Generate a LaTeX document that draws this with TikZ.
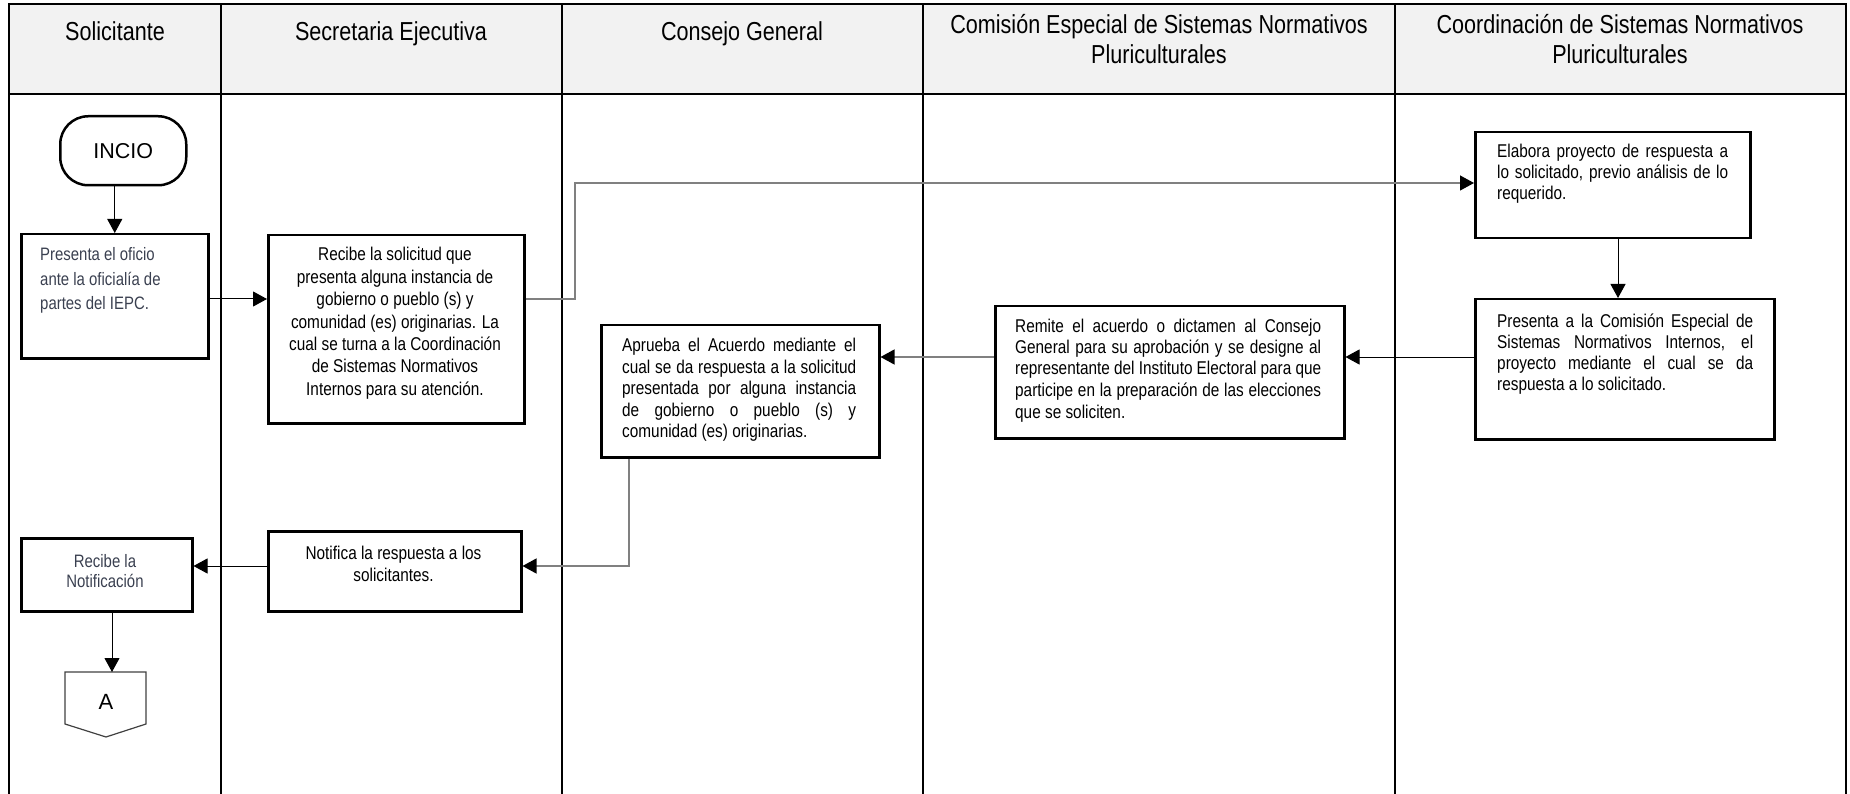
\documentclass[tikz,border=0pt]{standalone}
\usepackage{fontspec}
\setmainfont{Liberation Sans}
\newfontfamily\narf{Liberation Sans}[FakeStretch=0.83]
\usetikzlibrary{arrows.meta,calc}
\definecolor{hdrfill}{HTML}{F2F2F2}
\definecolor{linegray}{HTML}{808080}
\definecolor{slate}{HTML}{3A4050}
\definecolor{shapegray}{HTML}{404040}
\newcommand\JL[1]{\hbox to \hsize{#1}}
\begin{document}
\begin{tikzpicture}[x=1pt,y=-1pt,
  frameline/.style={line width=2.5pt,black},
  colline/.style={line width=2pt,black},
  hdr/.style={anchor=base,inner sep=0pt,font=\narf\fontsize{26}{30}\selectfont},
  box/.style={draw=black,line width=2.5pt,inner sep=0pt,anchor=north west},
  txt/.style={inner sep=0pt,font=\narf\fontsize{18.5}{21.5}\selectfont},
  tip/.style={-{Triangle[length=14pt,width=15pt,color=black]}},
  conn/.style={tip,line width=1pt,draw=black},
  gconn/.style={tip,line width=1.2pt,draw=linegray}]
\useasboundingbox (0,0) rectangle (1850,794);
% frame and lanes
\fill[hdrfill] (9,4) rectangle (1846,94);
\draw[frameline] (9,794) -- (9,4) -- (1846,4) -- (1846,794);
\draw[frameline] (9,94) -- (1846,94);
\foreach \x in {221,562,923,1395} \draw[colline] (\x,4) -- (\x,794);
% headers
\node[hdr] (h1) at (115,41) {Solicitante};
\node[hdr] (h2) at (391,41) {Secretaria Ejecutiva};
\node[hdr] (h3) at (742,41) {Consejo General};
\node[hdr] (h4) at (1159,34) {\parbox[t]{460pt}{\centering Comisión Especial de Sistemas Normativos\\Pluriculturales}};
\node[hdr] (h5) at (1620,34) {\parbox[t]{440pt}{\centering Coordinación de Sistemas Normativos\\Pluriculturales}};
% boxes
\node[box,rounded corners=28pt,minimum width=126pt,minimum height=69pt,font=\fontsize{21.5}{25}\selectfont] (inicio) at (59,115) {INCIO};
\node[box,minimum width=187pt,minimum height=124pt] (b2) at (20,233) {};
\node[box,minimum width=256pt,minimum height=188pt] (b3) at (267,234) {};
\node[box,minimum width=275pt,minimum height=106pt] (b4) at (1474,131) {};
\node[box,minimum width=299pt,minimum height=140pt] (b5) at (1474,298) {};
\node[box,minimum width=349pt,minimum height=132pt] (b6) at (994,305) {};
\node[box,minimum width=278pt,minimum height=132pt] (b7) at (600,324) {};
\node[box,minimum width=253pt,minimum height=80pt] (b8) at (267,530) {};
\node[box,minimum width=171pt,minimum height=73pt] (b9) at (20,537) {};
% texts
\node[txt,anchor=base west,text=slate,font=\narf\fontsize{18}{24.5}\selectfont] (t2) at (40,261)
  {\parbox[t]{165pt}{\raggedright Presenta el oficio\\ante la oficialía de\\partes del IEPC.}};
\node[txt,anchor=base,font=\narf\fontsize{18.5}{22.4}\selectfont] (t3) at (395,261)
  {\parbox[t]{245pt}{\centering Recibe la solicitud que\\presenta alguna instancia de\\gobierno o pueblo (s) y\\comunidad (es) originarias. La\\cual se turna a la Coordinación\\de Sistemas Normativos\\Internos para su atención.}};
\node[txt,anchor=base west,font=\narf\fontsize{18.5}{21}\selectfont] (t4) at (1497,158)
  {\parbox[t]{231pt}{\JL{Elabora proyecto de respuesta a}\JL{lo solicitado, previo análisis de lo}requerido.}};
\node[txt,anchor=base west,font=\narf\fontsize{18.5}{21}\selectfont] (t5) at (1497,327)
  {\parbox[t]{256pt}{\JL{Presenta a la Comisión Especial de}\JL{Sistemas Normativos Internos, el}\JL{proyecto mediante el cual se da}respuesta a lo solicitado.}};
\node[txt,anchor=base west] (t6) at (1015,332)
  {\parbox[t]{306pt}{\JL{Remite el acuerdo o dictamen al Consejo}\JL{General para su aprobación y se designe al}\JL{representante del Instituto Electoral para que}\JL{participe en la preparación de las elecciones}que se soliciten.}};
\node[txt,anchor=base west] (t7) at (622,352)
  {\parbox[t]{234pt}{\JL{Aprueba el Acuerdo mediante el}\JL{cual se da respuesta a la solicitud}\JL{presentada por alguna instancia}\JL{de gobierno o pueblo (s) y}comunidad (es) originarias.}};
\node[txt,anchor=base,font=\narf\fontsize{18.5}{22}\selectfont] (t8) at (393.5,559)
  {\parbox[t]{235pt}{\centering Notifica la respuesta a los\\solicitantes.}};
\node[txt,anchor=base,text=slate,font=\narf\fontsize{18}{20.5}\selectfont] (t9) at (105,567)
  {\parbox[t]{150pt}{\centering Recibe la\\Notificación}};
% off-page connector A
\draw[line width=1.2pt,draw=shapegray] (65,672) -- (146,672) -- (146,724) -- (106,737) -- (65,724) -- cycle;
\node[inner sep=0pt,font=\fontsize{22}{25}\selectfont] (conA) at (106,702) {A};
\coordinate (Atop) at (112,672);
% lane coordinates
\coordinate (r1) at (0,299);
\coordinate (r2) at (0,183);
\coordinate (r3) at (0,357);
\coordinate (r4) at (0,566);
\coordinate (c1) at (1618,0);
\coordinate (c2) at (629,0);
\coordinate (c3) at (112,0);
\coordinate (c4) at (575,0);
% connectors
\draw[conn] (inicio.south -| b2.north) -- (b2.north);
\draw[conn] (b2.east |- r1) -- (b3.west |- r1);
\draw[gconn] (b3.east |- r1) -- (c4 |- r1) -- (c4 |- r2) -- (b4.west |- r2);
\draw[conn] (b4.south -| c1) -- (b5.north -| c1);
\draw[conn] (b5.west |- r3) -- (b6.east |- r3);
\draw[gconn] (b6.west |- r3) -- (b7.east |- r3);
\draw[gconn] (b7.south -| c2) -- (c2 |- r4) -- (b8.east |- r4);
\draw[conn] (b8.west |- r4) -- (b9.east |- r4);
\draw[conn] (b9.south -| c3) -- (Atop);
\end{tikzpicture}
\end{document}
